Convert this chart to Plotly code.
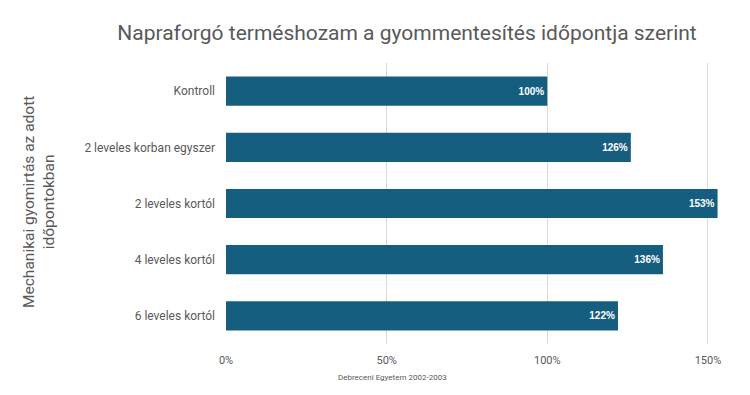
import plotly.graph_objects as go

categories = ["Kontroll", "2 leveles korban egyszer", "2 leveles kortól", "4 leveles kortól", "6 leveles kortól"]
values = [100, 126, 153, 136, 122]
tick_vals = [0, 50, 100, 150]
tick_text = ["0%", "50%", "100%", "150%"]

bar_color = "#165e80"
text_color = "#595959"
font_family = "Roboto, Arial, sans-serif"

# page body adds an 8px offset; compensate in margins
L, R, T, B = 218, 34, 55, 59
W, H = 750, 395
pw = W - L - R
ph = H - T - B

fig = go.Figure(go.Bar(
    y=categories,
    x=values,
    orientation="h",
    marker=dict(color=bar_color, line=dict(width=0)),
    text=[f"{v}%" for v in values],
    textposition="inside",
    insidetextanchor="end",
    textfont=dict(color="white", size=10, family="Arial, sans-serif"),
    texttemplate="<b>%{text}</b>",
    width=0.52,
))

fig.update_layout(
    width=W, height=H,
    margin=dict(l=L, r=R, t=T, b=B),
    paper_bgcolor="white",
    plot_bgcolor="white",
    showlegend=False,
    title=dict(
        text="Napraforgó terméshozam a gyommentesítés időpontja szerint",
        x=399 / W, xanchor="center", y=1 - 25 / H, yanchor="middle",
        font=dict(size=21, color=text_color, family=font_family),
    ),
    xaxis=dict(
        range=[0, 155],
        tickvals=tick_vals,
        ticktext=tick_text,
        showgrid=True,
        gridcolor="#d9d9d9",
        gridwidth=1,
        zeroline=False,
        showline=False,
        tickfont=dict(size=11, color=text_color, family=font_family),
        ticks="",
        ticklabelstandoff=8,
    ),
    yaxis=dict(
        categoryorder="array",
        categoryarray=categories[::-1],
        showgrid=False,
        zeroline=False,
        showline=False,
        ticks="",
        ticklabelstandoff=10,
        tickfont=dict(size=12, color=text_color, family=font_family),
    ),
    annotations=[
        dict(
            text="Debreceni Egyetem 2002-2003",
            xref="paper", yref="paper",
            x=(384 - L) / pw, y=-(369 - (H - B)) / ph,
            xanchor="center", yanchor="middle",
            showarrow=False,
            font=dict(size=8, color=text_color, family=font_family),
        ),
        dict(
            text="Mechanikai gyomirtás az adott<br>időpontokban",
            xref="paper", yref="paper",
            x=-(L - 31) / pw, y=((H - B) - 194) / ph,
            xanchor="center", yanchor="middle",
            textangle=-90,
            showarrow=False,
            font=dict(size=15.5, color=text_color, family=font_family),
        ),
    ],
)

fig.write_html("out.html")
